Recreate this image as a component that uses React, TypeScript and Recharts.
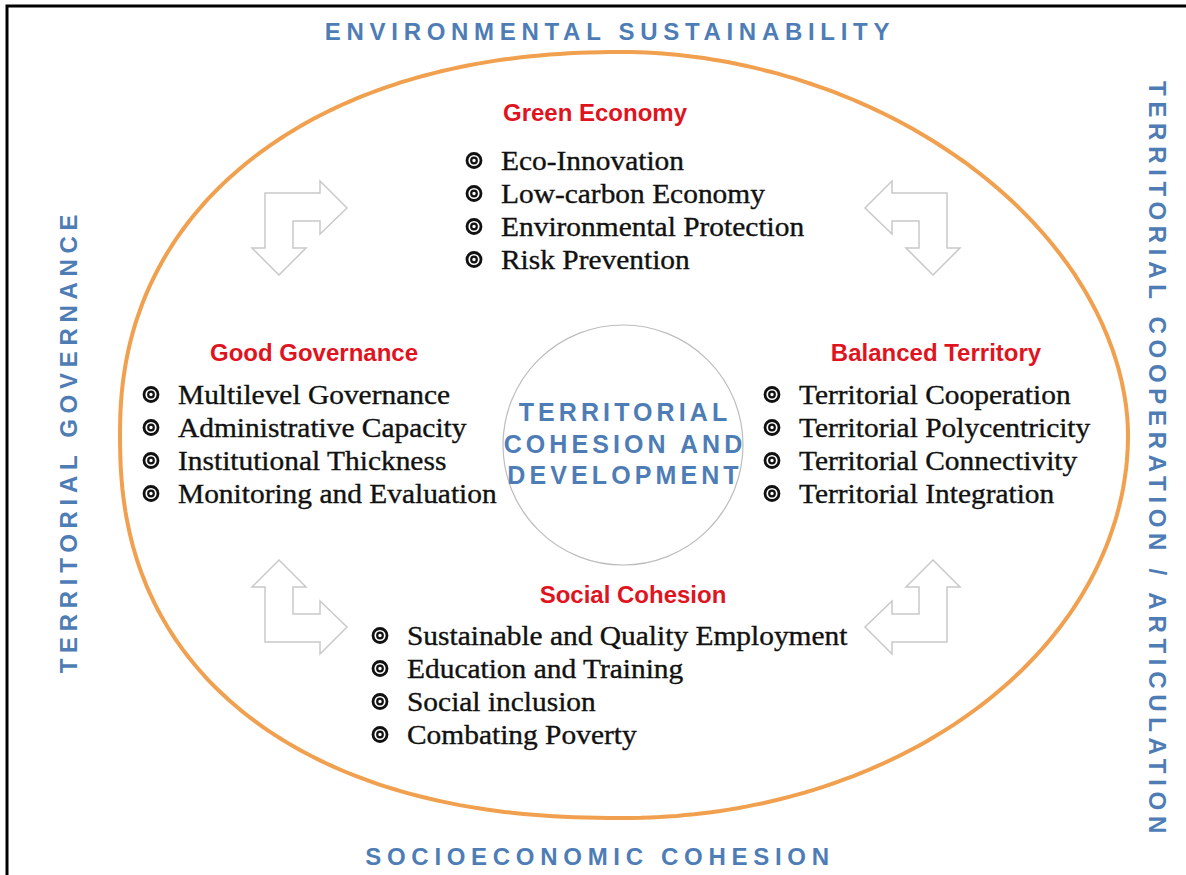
import { ScatterChart, Scatter, XAxis, YAxis } from 'recharts'

const W = 1186
const H = 875

const BLUE = '#4e7db6'
const RED = '#e0141e'
const ORANGE = '#f0a04e'
const ARROW_GREY = '#c9c9c9'

// outer labels around the ellipse
const outerLabels = [
  'ENVIRONMENTAL SUSTAINABILITY',
  'SOCIOECONOMIC COHESION',
  'TERRITORIAL GOVERNANCE',
  'TERRITORIAL COOPERATION / ARTICULATION',
]
const outerLabelX = [610, 600, 77, 1149]
const outerLabelY = [40, 865, 441, 460]
const outerLabelAngle = [0, 0, -90, 90]

// centre circle
const centerLines = ['TERRITORIAL', 'COHESION AND', 'DEVELOPMENT']
const centerX = [623]
const centerY = [445]
const centerR = [120]

// orange outline (slightly egg shaped, fuller on the left)
const ellipseX = [624]
const ellipseY = [435]
const ellipseRx = [504]
const ellipseRy = [383]
// squareness per quadrant: top-right, bottom-right, bottom-left, top-left
const ellipseN = [1.9, 2.0, 2.3, 2.2]

// four groups
const groupTitles = ['Green Economy', 'Good Governance', 'Balanced Territory', 'Social Cohesion']
const greenItems = ['Eco-Innovation', 'Low-carbon Economy', 'Environmental Protection', 'Risk Prevention']
const governanceItems = ['Multilevel Governance', 'Administrative Capacity', 'Institutional Thickness', 'Monitoring and Evaluation']
const balancedItems = ['Territorial Cooperation', 'Territorial Polycentricity', 'Territorial Connectivity', 'Territorial Integration']
const socialItems = ['Sustainable and Quality Employment', 'Education and Training', 'Social inclusion', 'Combating Poverty']
const groupItems = [greenItems, governanceItems, balancedItems, socialItems]
const titleX = [595, 314, 936, 633]
const titleY = [121, 361, 361, 603]
const listX = [501, 178, 799, 407]
const listY = [170, 404, 404, 645]

// L-shaped double arrows (outer corner of the L)
const arrowX = [265, 947, 265, 947]
const arrowY = [193, 193, 642, 642]
const arrowFlipX = [1, -1, 1, -1]
const arrowFlipY = [1, 1, -1, -1]

const frameData = [{ x: 7, y: 6 }]
const ellipseData = ellipseX.map((x, i) => ({ x, y: ellipseY[i], rx: ellipseRx[i], ry: ellipseRy[i], n: ellipseN }))
const circleData = centerX.map((x, i) => ({ x, y: centerY[i], r: centerR[i], lines: centerLines }))
const arrowData = arrowX.map((x, i) => ({ x, y: arrowY[i], fx: arrowFlipX[i], fy: arrowFlipY[i] }))
const outerData = outerLabels.map((label, i) => ({ x: outerLabelX[i], y: outerLabelY[i], label, angle: outerLabelAngle[i] }))
const groupData = groupTitles.map((title, i) => ({
  x: listX[i], y: listY[i], title, dx: titleX[i] - listX[i], dy: titleY[i] - listY[i], items: groupItems[i],
}))

const SANS = '"Liberation Sans", Arial, sans-serif'
const SERIF = '"Liberation Serif", "Times New Roman", serif'
const LINE = 33

const arrowPath = 'M0,0 L55,0 L55,-12 L82,15 L55,41 L55,28 L28,28 L28,55 L41,55 L14,82 L-13,55 L0,55 Z'

function Frame(props: any) {
  const { cx, cy } = props
  return <rect x={cx} y={cy} width={1400} height={1100} fill="none" stroke="#000" strokeWidth={3} />
}

function Ellipse(props: any) {
  const { cx, cy, payload } = props
  const { rx, ry, n } = payload
  const pts: string[] = []
  const steps = 360
  for (let k = 0; k <= steps; k++) {
    const t = (k / steps) * Math.PI * 2
    const c = Math.cos(t)
    const s = Math.sin(t)
    // quadrant: 0 top-right, 1 bottom-right, 2 bottom-left, 3 top-left
    const q = c >= 0 ? (s < 0 ? 0 : 1) : (s >= 0 ? 2 : 3)
    const e = 2 / n[q]
    const px = cx + rx * Math.sign(c) * Math.pow(Math.abs(c), e)
    const py = cy + ry * Math.sign(s) * Math.pow(Math.abs(s), e)
    pts.push(`${px.toFixed(1)},${py.toFixed(1)}`)
  }
  return <path d={`M${pts.join(' L')} Z`} fill="none" stroke={ORANGE} strokeWidth={4} strokeLinejoin="round" />
}

function CenterCircle(props: any) {
  const { cx, cy, payload } = props
  return (
    <g>
      <circle cx={cx} cy={cy} r={payload.r} fill="#fff" stroke="#bdbdbd" strokeWidth={1.2} />
      {payload.lines.map((l: string, i: number) => (
        <text key={l} x={cx + 2} y={cy - 24 + i * 31.5} textAnchor="middle" fontFamily={SANS} fontWeight={700}
          fontSize={25} letterSpacing={4.1} fill={BLUE}>{l}</text>
      ))}
    </g>
  )
}

function Arrow(props: any) {
  const { cx, cy, payload } = props
  return (
    <path d={arrowPath} transform={`translate(${cx},${cy}) scale(${payload.fx},${payload.fy})`}
      fill="#fff" stroke={ARROW_GREY} strokeWidth={1.5} strokeLinejoin="miter" />
  )
}

function OuterLabel(props: any) {
  const { cx, cy, payload } = props
  return (
    <text x={0} y={0} transform={`translate(${cx},${cy}) rotate(${payload.angle})`} textAnchor="middle"
      fontFamily={SANS} fontWeight={700} fontSize={24} letterSpacing={5.7} fill={BLUE}>{payload.label}</text>
  )
}

function Group(props: any) {
  const { cx, cy, payload } = props
  return (
    <g>
      <text x={cx + payload.dx} y={cy + payload.dy} textAnchor="middle" fontFamily={SANS} fontWeight={700}
        fontSize={24} fill={RED}>{payload.title}</text>
      {payload.items.map((item: string, i: number) => (
        <g key={item}>
          <circle cx={cx - 27} cy={cy + i * LINE - 9.5} r={7} fill="none" stroke="#111" strokeWidth={2.8} />
          <circle cx={cx - 27} cy={cy + i * LINE - 9.5} r={2.8} fill="none" stroke="#111" strokeWidth={2.2} />
          <text x={0} y={0} transform={`translate(${cx},${cy + i * LINE}) scale(1.09,1)`} fontFamily={SERIF}
            fontSize={27} fill="#111" stroke="#111" strokeWidth={0.35}>{item}</text>
        </g>
      ))}
    </g>
  )
}

export default function App() {
  return (
    <div style={{ position: 'absolute', left: 0, top: 0, width: W, height: H, background: '#fff' }}>
      <ScatterChart width={W} height={H} margin={{ top: 0, right: 0, bottom: 0, left: 0 }}>
        <XAxis type="number" dataKey="x" domain={[0, W]} hide />
        <YAxis type="number" dataKey="y" domain={[0, H]} reversed hide />
        <Scatter data={frameData} shape={Frame} isAnimationActive={false} />
        <Scatter data={ellipseData} shape={Ellipse} isAnimationActive={false} />
        <Scatter data={arrowData} shape={Arrow} isAnimationActive={false} />
        <Scatter data={circleData} shape={CenterCircle} isAnimationActive={false} />
        <Scatter data={outerData} shape={OuterLabel} isAnimationActive={false} />
        <Scatter data={groupData} shape={Group} isAnimationActive={false} />
      </ScatterChart>
    </div>
  )
}
